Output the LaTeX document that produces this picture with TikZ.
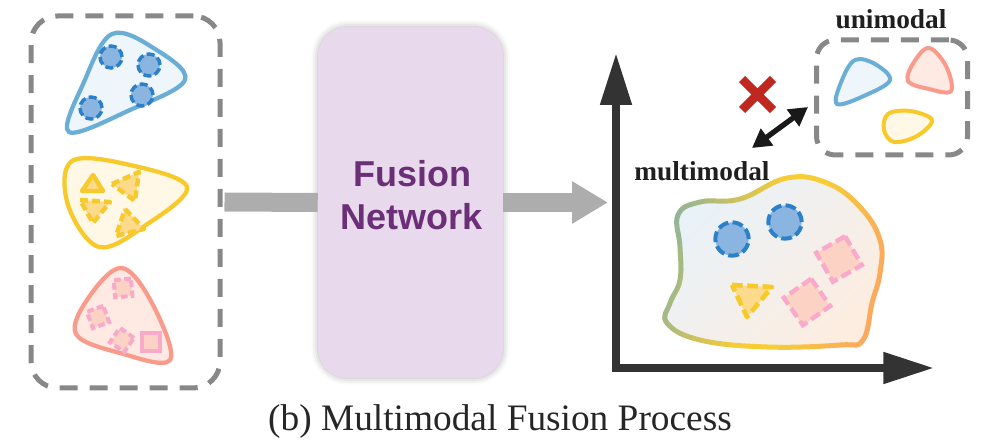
\documentclass[tikz,border=0pt]{standalone}
\usepackage{fontspec}
\setmainfont{Liberation Serif}
\newfontfamily\sansbold{Liberation Sans}
\usetikzlibrary{arrows.meta,shadows.blur}

\definecolor{dgray}{HTML}{888888}
\definecolor{bargray}{HTML}{ADADAD}
\definecolor{axisc}{HTML}{333333}
\definecolor{blueline}{HTML}{6AAED6}
\definecolor{bluefill}{HTML}{EEF5FB}
\definecolor{dotline}{HTML}{2B80C8}
\definecolor{dotfill}{HTML}{8AB5E1}
\definecolor{yelline}{HTML}{F8C92A}
\definecolor{yelfill}{HTML}{FFF8E6}
\definecolor{trifill}{HTML}{FBDA8C}
\definecolor{pinkline}{HTML}{F99A8A}
\definecolor{pinkfill}{HTML}{FEEAE2}
\definecolor{sqline}{HTML}{F9AACA}
\definecolor{sqfill}{HTML}{FBD2C4}
\definecolor{fusefill}{HTML}{E8D9EC}
\definecolor{fusetext}{HTML}{6B2F78}
\definecolor{redx}{HTML}{C0281F}
\definecolor{mmgreen}{HTML}{93B496}
\definecolor{mmyellow}{HTML}{F6CD35}
\definecolor{mmorange}{HTML}{FBA95E}
\definecolor{mmtop}{HTML}{E8F2F9}
\definecolor{mmbot}{HTML}{FDEDE0}

\def\mmblobpath{plot[smooth cycle, tension=0.7] coordinates {(678,215) (700,202) (740,199) (787,178) (827,183) (860,207) (880,240) (880,273) (872,303) (863,340) (840,345) (767,347) (700,340) (667,323) (670,303) (680,280) (680,247)}}

\tikzset{
  dashbox/.style={draw=dgray, line width=3.75pt, dash pattern=on 13.5pt off 9pt, fill=none},
  blueblob/.style={draw=blueline, fill=bluefill, line width=3.2pt},
  yelblob/.style={draw=yelline, fill=yelfill, line width=3.2pt},
  pinkblob/.style={draw=pinkline, fill=pinkfill, line width=3.2pt},
  dot/.style={circle, draw=dotline, fill=dotfill, line width=2.6pt, dash pattern=on 6pt off 2.6pt, inner sep=0pt},
  bigdot/.style={dot, line width=3pt, dash pattern=on 8pt off 3.2pt},
  tri/.style={draw=yelline, fill=trifill, line width=3.3pt, dash pattern=on 6pt off 3pt, line join=round},
  soltri/.style={draw=yelline, fill=trifill, line width=3.3pt, line join=round},
  sq/.style={rectangle, draw=sqline, fill=sqfill, line width=3pt, dash pattern=on 5pt off 2.6pt, inner sep=0pt},
  solsq/.style={rectangle, draw=sqline, fill=sqfill, line width=3pt, inner sep=0pt},
  bigsq/.style={sq, line width=3.3pt, dash pattern=on 8pt off 3.5pt},
  bar/.style={draw=bargray, line width=14.25pt},
  axis/.style={draw=axisc, line width=6pt, line join=miter,
    {Triangle[length=39pt,width=22.5pt]}-{Triangle[length=38pt,width=22.5pt]}},
  lbl/.style={font=\bfseries\fontsize{20.5}{22}\selectfont, text=black!88},
}

\begin{document}
\begin{tikzpicture}[x=0.75pt, y=-0.75pt]
\useasboundingbox (0,0) rectangle (1002,448);

% ---------- left dashed box, fusion box and bars ----------
\node[dashbox, rounded corners=20pt, minimum width=141.75pt, minimum height=279pt] (leftbox) at (125.5,202) {};
\node[fill=fusefill, rounded corners=22pt, minimum width=138.75pt, minimum height=263.25pt,
      blur shadow={shadow xshift=0pt, shadow yshift=0pt, shadow blur radius=5pt, shadow opacity=30}] (fusion) at (410.5,202.5) {};
\coordinate (arrowend) at (608,202.5);
\draw[bar] ([xshift=1.5pt]leftbox.east) -- (fusion.west);
\draw[bar, -{Triangle[length=27pt,width=30pt]}] (fusion.east) -- (arrowend);
\node[align=center, font=\sansbold\bfseries\fontsize{27}{32}\selectfont, text=fusetext] (fusetxt) at (412,195) {Fusion\\Network};

% ---------- blue blob ----------
\draw[blueblob] plot[smooth cycle, tension=0.6] coordinates {(112,34) (155,49) (185,80) (130,110) (69,132) (84,82)};
\node[dot, minimum size=16.5pt] (b1) at (111,57) {};
\node[dot, minimum size=16.5pt] (b2) at (149,65) {};
\node[dot, minimum size=16.5pt] (b3) at (142,95) {};
\node[dot, minimum size=16.5pt] (b4) at (91,108) {};

% ---------- yellow blob ----------
\draw[yelblob] plot[smooth cycle, tension=0.6] coordinates {(72,161) (130,165) (187,187) (146,225) (99,247) (68,205)};
\draw[soltri] (82,191) -- (93,175) -- (103,191) -- cycle;
\draw[tri] (112,184) -- (139,172) -- (135,201) -- cycle;
\draw[tri] (80,200) -- (110,202) -- (93,223) -- cycle;
\draw[tri] (125,209) -- (144,229) -- (116,236) -- cycle;

% ---------- pink blob ----------
\draw[pinkblob] plot[smooth cycle, tension=0.6] coordinates {(122,268) (153,305) (170,360) (120,353) (76,334) (89,297)};
\node[sq, minimum size=13pt, rotate=5] (p1) at (123,288) {};
\node[sq, minimum size=13pt, rotate=20] (p2) at (98,317) {};
\node[sq, minimum size=13pt, rotate=-35] (p3) at (122,340) {};
\node[solsq, minimum size=13pt] (p4) at (151,342) {};

% ---------- axes ----------
\coordinate (ytip) at (616,53);
\coordinate (orig) at (616,368);
\coordinate (xtip) at (934,368);
\draw[axis] (ytip) -- (orig) -- (xtip);

% ---------- multimodal blob ----------
\shade[top color=mmtop, bottom color=mmbot, shading angle=45] \mmblobpath;
\foreach \i in {0,...,27} {
  \pgfmathsetmacro\sa{635+10*\i}
  \pgfmathsetmacro\pa{min(100,max(0,(\sa+5-662)/(760-662)*100))}
  \pgfmathsetmacro\pb{min(100,max(0,(\sa+5-800)/(885-800)*100))}
  \colorlet{tmpA}{mmyellow!\pa!mmgreen}
  \colorlet{tmpB}{mmorange!\pb!tmpA}
  \begin{scope}
    \clip (\sa+33.9,150) -- (\sa+44.3,150) -- (\sa-21.7,370) -- (\sa-32.1,370) -- cycle;
    \draw[line width=3.75pt, draw=tmpB] \mmblobpath;
  \end{scope}
}
\node[bigdot, minimum size=25pt] (m1) at (732,239) {};
\node[bigdot, minimum size=25pt] (m2) at (785,222) {};
\node[bigsq, minimum size=25pt, rotate=30] (m3) at (839,259) {};
\node[bigsq, minimum size=25pt, rotate=35] (m4) at (807,302) {};
\draw[tri, line width=3.5pt, dash pattern=on 8pt off 3.5pt] (732,285) -- (772,287) -- (747,317) -- cycle;
\node[lbl] (mlabel) at (702,171) {multimodal};

% ---------- unimodal box ----------
\node[dashbox, rounded corners=14pt, minimum width=113.25pt, minimum height=86.25pt] (ubox) at (892,97.5) {};
\node[lbl] (ulabel) at (891,19) {unimodal};
\draw[blueblob, line width=3pt] plot[smooth cycle, tension=0.6] coordinates {(855,60) (875,64) (890,80) (866,95) (837,104) (842,80)};
\draw[pinkblob, line width=3pt] plot[smooth cycle, tension=0.6] coordinates {(929,48) (946,66) (951,91) (929,89) (908,81) (914,62)};
\draw[yelblob, line width=3pt] plot[smooth cycle, tension=0.6] coordinates {(888,114) (910,111) (932,120) (917,136) (894,142) (884,130)};

% ---------- red cross and double arrow ----------
\coordinate (x1) at (742,79);
\coordinate (x2) at (773,110);
\coordinate (x3) at (742,110);
\coordinate (x4) at (773,79);
\draw[redx, line width=6.5pt] (x1) -- (x2) (x3) -- (x4);
\coordinate (da1) at (752,148);
\coordinate (da2) at (808,107);
\draw[black!90, line width=4pt, {Triangle[length=14pt,width=15pt]}-{Triangle[length=14pt,width=15pt]}] (da1) -- (da2);

% ---------- caption ----------
\node[anchor=base, font=\fontsize{28}{30}\selectfont, text=black!85] (cap) at (500,431) {(b) Multimodal Fusion Process};
\end{tikzpicture}
\end{document}
